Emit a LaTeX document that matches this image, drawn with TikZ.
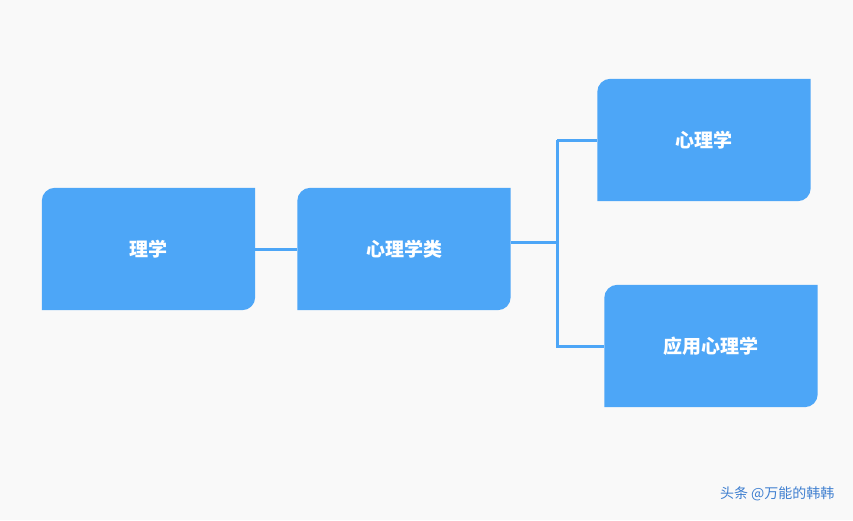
\documentclass[tikz,border=0pt]{standalone}
\usepackage{fontspec}
\newfontfamily\cjk{Noto Sans CJK SC}
\usetikzlibrary{backgrounds,calc}
\definecolor{boxblue}{HTML}{4DA6F7}
\definecolor{pagebg}{HTML}{F9F9F9}
\definecolor{markblue}{HTML}{3F7FD0}
\tikzset{
  leaf/.style={minimum width=213pt,minimum height=122pt,inner sep=0pt,
    text=white,font=\cjk\bfseries\fontsize{19pt}{22pt}\selectfont},
  link/.style={boxblue,line width=3pt}
}
\newcommand{\leaffill}[1]{%
  \fill[boxblue] (#1.south west) -- ([yshift=-13pt]#1.north west)
    arc[start angle=180,end angle=90,radius=13pt] -- (#1.north east)
    -- ([yshift=13pt]#1.south east)
    arc[start angle=0,end angle=-90,radius=13pt] -- cycle;}
\begin{document}
\begin{tikzpicture}[x=1pt,y=-1pt]
  \useasboundingbox (0,0) rectangle (853,520);
  \node[leaf] (lixue) at (148.5,249) {理学};
  \node[leaf] (xlxl) at (404,249) {心理学类};
  \node[leaf] (xlx) at (704,140) {心理学};
  \node[leaf] (yyxlx) at (711,346) {应用心理学};
  \coordinate (fork) at (557,242);
  \node[anchor=east,text=markblue,font=\cjk\fontsize{14pt}{16pt}\selectfont] (mark) at (838,494) {头条 @万能的韩韩};
  \begin{scope}[on background layer]
    \fill[pagebg] (0,0) rectangle (853,520);
    \draw[link] (lixue.east) -- (xlxl.west);
    \draw[link] (xlxl.east |- fork) -- (fork);
    \draw[link] (fork |- xlx.west) -- (xlx.west);
    \draw[link] (fork |- xlx.west) -- (fork |- yyxlx.west) -- (yyxlx.west);
    \leaffill{lixue}
    \leaffill{xlxl}
    \leaffill{xlx}
    \leaffill{yyxlx}
  \end{scope}
\end{tikzpicture}
\end{document}
